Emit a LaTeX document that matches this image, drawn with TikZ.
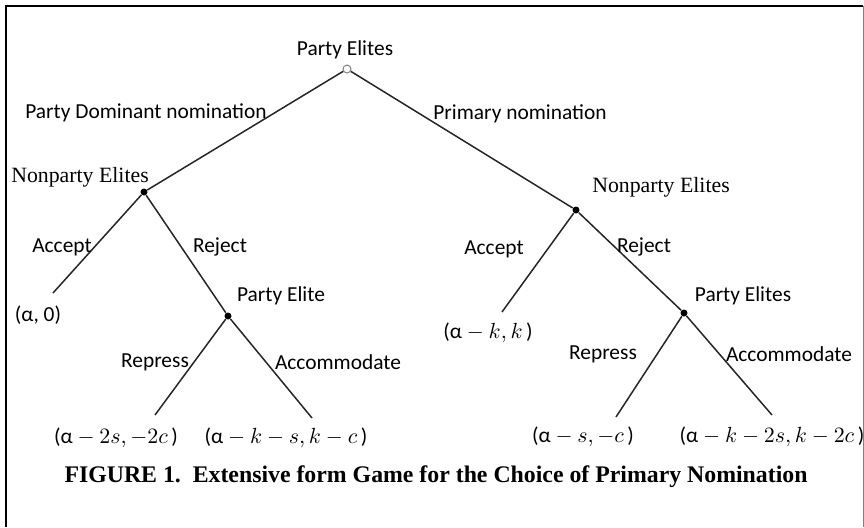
\documentclass[tikz,border=0pt]{standalone}
\usepackage{fontspec}
\setmainfont{Carlito}
\newfontfamily\playerfont{Liberation Serif}
\usetikzlibrary{positioning}

\tikzset{
  chance/.style={circle,draw=gray,fill=white,line width=0.5pt,inner sep=0pt,minimum size=4pt},
  move/.style={circle,fill=black,inner sep=0pt,minimum size=3.5pt},
  branch/.style={line width=0.75pt,black!85},
  lbl/.style={inner sep=0pt,font=\fontsize{10.7}{12}\selectfont},
  player/.style={inner sep=0pt,font=\playerfont\fontsize{10.9}{12}\selectfont},
  payoff/.style={inner sep=0pt,font=\fontsize{10.7}{12}\selectfont}
}

\begin{document}
\begin{tikzpicture}[x=0.5pt,y=-0.5pt]
\useasboundingbox (0,0) rectangle (864,527);
% frame of the figure
\draw[line width=1.1pt] (6,527) -- (6,6) -- (863,6);
\draw[gray,line width=0.5pt] (863,6) -- (863,527);
% decision nodes
\node[chance] (root) at (347,69) {};
\node[move] (npL) at (144,192) {};
\node[move] (npR) at (576,210) {};
\node[move] (peL) at (228,316) {};
\node[move] (peR) at (684,313) {};
% end points
\coordinate (accL) at (53,293);
\coordinate (repL) at (155,415);
\coordinate (comL) at (312,418);
\coordinate (accR) at (502,312);
\coordinate (repR) at (616,417);
\coordinate (comR) at (772,415);
% branches
\draw[branch] (root) -- (npL);
\draw[branch] (root) -- (npR);
\draw[branch] (npL) -- (accL);
\draw[branch] (npL) -- (peL);
\draw[branch] (peL) -- (repL);
\draw[branch] (peL) -- (comL);
\draw[branch] (npR) -- (accR);
\draw[branch] (npR) -- (peR);
\draw[branch] (peR) -- (repR);
\draw[branch] (peR) -- (comR);
% players
\node[lbl] (tRoot) at (345,50) {Party Elites};
\node[player] (tNpL) at (80,177) {Nonparty Elites};
\node[player] (tNpR) at (661,187) {Nonparty Elites};
\node[lbl] (tPeL) at (281,296) {Party Elite};
\node[lbl] (tPeR) at (743,296) {Party Elites};
% moves
\node[lbl] (mDom) at (146,113) {Party Dominant nomination};
\node[lbl] (mPri) at (520,114) {Primary nomination};
\node[lbl] (mAccL) at (62,247) {Accept};
\node[lbl] (mRejL) at (220,247) {Reject};
\node[lbl] (mAccR) at (494,249) {Accept};
\node[lbl] (mRejR) at (644,247) {Reject};
\node[lbl] (mRepL) at (155,362) {Repress};
\node[lbl] (mComL) at (338,362) {Accommodate};
\node[lbl] (mRepR) at (603,354) {Repress};
\node[lbl] (mComR) at (789,354) {Accommodate};
% payoffs
\node[payoff] (pAccL) at (38,315) {(α, 0)};
\node[payoff] (pRepL) at (116,438) {(α${}-2s,-2c$\,)};
\node[payoff] (pComL) at (286,438) {(α${}-k-s,k-c$\,)};
\node[payoff] (pAccR) at (488,333) {(α${}-k,k$\,)};
\node[payoff] (pRepR) at (583,437) {(α${}-s,-c$\,)};
\node[payoff] (pComR) at (772,437) {(α${}-k-2s,k-2c$\,)};
% caption
\node[inner sep=0pt,font=\playerfont\bfseries\fontsize{11.9}{14}\selectfont] (caption) at (436,477)
  {FIGURE 1.\ \ Extensive form Game for the Choice of Primary Nomination};
\end{tikzpicture}
\end{document}
